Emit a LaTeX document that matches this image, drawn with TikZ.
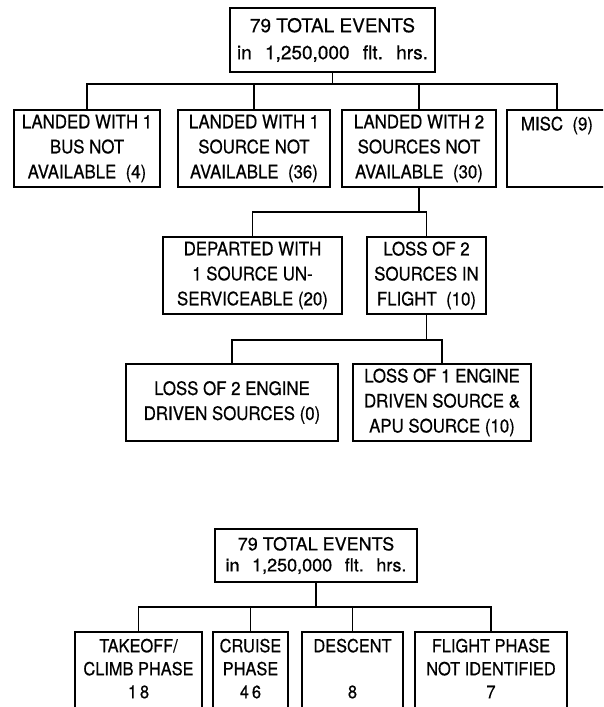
\documentclass[tikz,border=0pt]{standalone}
\usepackage{fontspec}
\setmainfont[FakeBold=0.6]{TeX Gyre Heros}
\newfontfamily\narrowfont[FakeStretch=0.91,FakeBold=0.6]{TeX Gyre Heros}
\usetikzlibrary{calc}

\begin{document}
\begin{tikzpicture}[x=1pt,y=-1pt,
  topbox/.style={draw, line width=1.7pt, align=center, inner sep=0pt},
  evbox/.style={draw, line width=1.7pt, align=center, inner sep=0pt},
  link/.style={line width=1.7pt, line cap=rect, line join=miter}]
  \useasboundingbox (0,0) rectangle (603,707);
  \clip (0,0) rectangle (603,707);

  % upper chart: by cause
  \node[topbox, minimum width=205, minimum height=64, font=\fontsize{19}{27}\selectfont] (total) at (332.5,40)
    {79 TOTAL EVENTS\\in\hspace{0.7em}1,250,000\hspace{0.7em}flt.\hspace{0.7em}hrs.};

  \begin{scope}[every node/.append style={font=\narrowfont\fontsize{18.5}{25}\selectfont}]
    \node[evbox, minimum width=146, minimum height=77] (bus) at (87,148.5)
      {LANDED WITH 1\\BUS NOT\\AVAILABLE~~(4)};
    \node[evbox, minimum width=152, minimum height=77] (onesrc) at (254,148.5)
      {LANDED WITH 1\\SOURCE NOT\\AVAILABLE~~(36)};
    \node[evbox, minimum width=154, minimum height=77] (twosrc) at (419,148.5)
      {LANDED WITH 2\\SOURCES NOT\\AVAILABLE~~(30)};
    \node[evbox, minimum width=100, minimum height=77] (misc) at (557,148.5)
      {MISC~~(9)\\~\\~};

    \node[evbox, minimum width=179, minimum height=77] (departed) at (252.5,275.5)
      {DEPARTED WITH\\1 SOURCE UN-\\SERVICEABLE (20)};
    \node[evbox, minimum width=119, minimum height=77] (inflight) at (426.5,275.5)
      {LOSS OF 2\\SOURCES IN\\FLIGHT~~(10)};

    \node[evbox, minimum width=212, minimum height=77] (bothengines) at (232,402.5)
      {LOSS OF 2 ENGINE\\DRIVEN SOURCES (0)};
    \node[evbox, minimum width=178, minimum height=77] (engineapu) at (442,402.5)
      {LOSS OF 1 ENGINE\\DRIVEN SOURCE \&\\APU SOURCE (10)};
  \end{scope}

  \coordinate (bus1) at ($(total.south)+(0,11)$);
  \draw[link] (total.south) -- (bus1);
  \draw[link] (bus.north) |- (bus1) -| (misc.north);
  \foreach \n in {onesrc,twosrc}
    \draw[link] (\n.north) -- (\n.north |- bus1);

  \coordinate (bus2) at ($(twosrc.south)+(0,24)$);
  \draw[link] (twosrc.south) -- (bus2);
  \draw[link] (departed.north) |- (bus2) -| (inflight.north);

  \coordinate (bus3) at ($(inflight.south)+(0,25)$);
  \draw[link] (inflight.south) -- (bus3);
  \draw[link] (bothengines.north) |- (bus3) -| (engineapu.north);

  % lower chart: by flight phase
  \node[topbox, minimum width=202, minimum height=53, font=\fontsize{18}{21}\selectfont] (total2) at (316,555.5)
    {79 TOTAL EVENTS\\in\hspace{0.7em}1,250,000\hspace{0.7em}flt.\hspace{0.7em}hrs.};

  \begin{scope}[every node/.append style={font=\narrowfont\fontsize{18}{23}\selectfont}]
    \node[evbox, minimum width=127, minimum height=96] (takeoff) at (138.5,680)
      {TAKEOFF/\\CLIMB PHASE\\1\kern3pt8\\~};
    \node[evbox, minimum width=75, minimum height=96] (cruise) at (250.5,680)
      {CRUISE\\PHASE\\4\kern3pt6\\~};
    \node[evbox, minimum width=101, minimum height=96] (descent) at (352.5,680)
      {DESCENT\\~\\8\\~};
    \node[evbox, minimum width=152, minimum height=96] (unknown) at (491,680)
      {FLIGHT PHASE\\NOT IDENTIFIED\\7\\~};
  \end{scope}

  \coordinate (bus4) at ($(total2.south)+(0,24)$);
  \draw[link] (total2.south) -- (bus4);
  \draw[link] (takeoff.north) |- (bus4) -| (unknown.north);
  \foreach \n in {cruise,descent}
    \draw[link] (\n.north) -- (\n.north |- bus4);
\end{tikzpicture}
\end{document}
